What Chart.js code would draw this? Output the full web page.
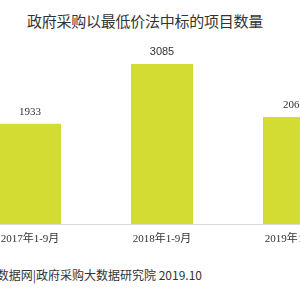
<!DOCTYPE html>
<html>
<head>
<meta charset="utf-8">
<script src="https://cdn.jsdelivr.net/npm/chart.js@4/dist/chart.umd.min.js"></script>
<style>
html,body{margin:0;padding:0;width:300px;height:300px;overflow:hidden;background:#fff;}
#title{position:absolute;left:27px;top:10px;font:15px "Noto Sans CJK SC",sans-serif;letter-spacing:-0.25px;color:#333;white-space:nowrap;}
#wrap{position:absolute;left:-36px;top:0;width:396px;height:250px;}
#source{position:absolute;right:98px;top:266px;font:12px "Noto Sans CJK SC",sans-serif;color:#333;white-space:nowrap;}
</style>
</head>
<body>
<div id="title">政府采购以最低价法中标的项目数量</div>
<div id="wrap"><canvas id="c"></canvas></div>
<div id="source">来源：中国政府采购数据网|政府采购大数据研究院 2019.10</div>
<script>
const categories = ["2017年1-9月", "2018年1-9月", "2019年1-9月"];
const projectCounts = [1933, 3085, 2063];
const labelFonts = ['"Liberation Serif", serif', '"Liberation Sans", Arial, sans-serif', '"Liberation Serif", serif'];

const valueLabels = {
  id: 'valueLabels',
  afterDatasetsDraw(chart) {
    const ctx = chart.ctx;
    const meta = chart.getDatasetMeta(0);
    ctx.save();
    ctx.fillStyle = '#333';
    ctx.textAlign = 'center';
    ctx.textBaseline = 'middle';
    meta.data.forEach((bar, i) => {
      ctx.font = '11px ' + labelFonts[i];
      ctx.fillText(String(projectCounts[i]), bar.x, bar.y - 12);
    });
    ctx.restore();
  }
};

new Chart(document.getElementById('c'), {
  type: 'bar',
  data: {
    labels: categories,
    datasets: [{
      data: projectCounts,
      backgroundColor: '#d2dc32',
      borderWidth: 0,
      categoryPercentage: 1,
      barPercentage: 0.47
    }]
  },
  options: {
    responsive: true,
    maintainAspectRatio: false,
    animation: false,
    devicePixelRatio: 1,
    layout: { padding: { top: 42.5, left: 0, right: 0, bottom: 0 } },
    plugins: { legend: { display: false }, tooltip: { enabled: false }, title: { display: false } },
    scales: {
      x: {
        grid: { display: false, drawTicks: false },
        border: { display: true, color: '#d9d9d9', width: 1 },
        ticks: { color: '#333', font: { family: '"Liberation Serif", "Noto Sans CJK SC", serif', size: 11 }, padding: 9, maxRotation: 0, autoSkip: false },
        afterFit(scale) { scale.height = 26; }
      },
      y: { display: false, min: 0, max: 3500 }
    }
  },
  plugins: [valueLabels]
});
</script>
</body>
</html>
